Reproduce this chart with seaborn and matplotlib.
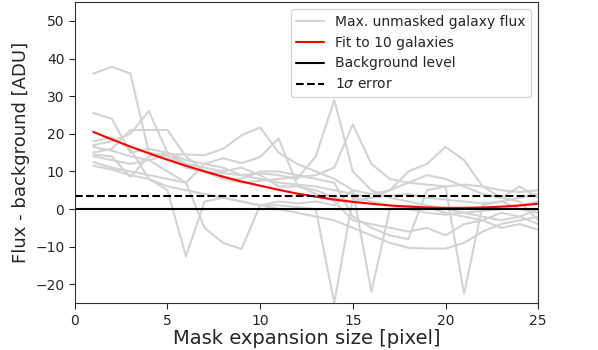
import matplotlib
import matplotlib.pyplot as plt
import numpy as np
import pandas as pd
import seaborn as sns

matplotlib.use("Agg")

# ── Data ──────────────────────────────────────────────────────────────────────

mask_size = list(range(1, 26))

galaxy_flux = [
    [36, 37.8, 36, 15, 14, 11, 10, 9.5, 9, 8, 7, 6.5, 6, 5, 4, 3, 3.5, 4, 3, 2.5, 2, 1.5, 2, 3, 4],
    [25.5, 24, 15, 16, 15, 13, 12, 11, 9, 9.5, 9, 8, 14, 29, 10, 5, 3, 2, 1, 0, -1, -0.5, 0, 1, 2],
    [18, 19, 16, 8, 5, -12.6, 2, 3, 2, 1, 1, 0.5, 0, -25, 3, 2, 1, 0, -1, -1.5, -1, -2, -3, -2, -4],
    [17, 18, 20, 26, 15, 11, 10, 8, 7, 7.5, 8, 8.5, 9, 11, 22.5, 12, 8, 7, 6.5, 6, 6.5, 6, 5, 4.5, 5],
    [16.5, 15.5, 14, 13, 10, 7, -5, -9, -10.6, 1, 2, 1.5, 2, 1, 5, -22, 0, 1, 0.5, -1, -2, -3, -1, -2, 0],
    [15, 16, 21, 21, 21, 14, 10, 8, 8, 10, 10, 9, 8, 7, -2, -5, -7, -8, 5, 6, -22.5, 1, 2, 0, -1],
    [14.5, 14, 8.5, 14, 15, 12, 11, 10, 11, 9, 6, 6, 5, 3, 2, 3, 5, 10, 12, 16.5, 13, 6, 3, 2, -3],
    [14, 13, 12, 13, 14.5, 14.5, 14.3, 16, 19.6, 21.7, 15, 12, 10, 8, 5, 4, 5, 7, 9, 8, 6, 4, 3, 6, 3],
    [12.5, 11, 10, 9, 8, 7, 12, 13.5, 12.2, 13.8, 18.8, 6.4, 4, 2, -3, -4, -5, -6, -5, -7, -4, -3, -5, -4, -5.5],
    [11.5, 10.5, 9, 8, 6, 5, 4, 3, 2, 1, 0, -1, -2, -3, -5, -7, -9, -10.3, -10.5, -10.5, -9, -6, -4, -3, -2],
]

fit_flux = [20.5, 18.5, 16.6, 14.8, 13.1, 11.5, 10.0, 8.6, 7.3, 6.2, 5.1, 4.1, 3.3,
            2.5, 1.9, 1.4, 0.95, 0.63, 0.42, 0.31, 0.31, 0.42, 0.63, 0.95, 1.4]

background_level = 0.0
error_level = 3.35

# ── Plot ──────────────────────────────────────────────────────────────────────

sns.set_style("white")
plt.rcParams["font.family"] = ["DejaVu Sans"]

df = pd.DataFrame(
    [(g, x, v) for g, row in enumerate(galaxy_flux) for x, v in zip(mask_size, row)],
    columns=["galaxy", "size", "flux"],
)

fig, ax = plt.subplots(figsize=(5.98, 3.5), dpi=100)
fig.subplots_adjust(left=0.125, right=0.9, top=0.994, bottom=0.134)

sns.lineplot(data=df, x="size", y="flux", units="galaxy", estimator=None,
             color="lightgray", lw=1.5, ax=ax, label="Max. unmasked galaxy flux")
sns.lineplot(x=mask_size, y=fit_flux, color="red", lw=1.5, ax=ax, label="Fit to 10 galaxies")
ax.axhline(background_level, color="black", lw=1.5, label="Background level")
ax.axhline(error_level, color="black", lw=1.5, ls="--", label=r"1$\sigma$ error")

ax.set_xlim(0, 25)
ax.set_ylim(-25, 55)
ax.set_xlabel("Mask expansion size [pixel]", fontsize=14, labelpad=1)
ax.set_ylabel("Flux - background [ADU]", fontsize=13)
ax.tick_params(axis="both", labelsize=10, direction="out", length=4, left=True, bottom=True)
for spine in ax.spines.values():
    spine.set_color("#333333")

# one legend entry per label (units= gives one per galaxy)
handles, labels = ax.get_legend_handles_labels()
unique = dict(zip(labels, handles))
ax.legend(unique.values(), unique.keys(), loc="upper right", fontsize=10, frameon=True)

fig.savefig("out.png", dpi=100, facecolor="white")
plt.close(fig)
